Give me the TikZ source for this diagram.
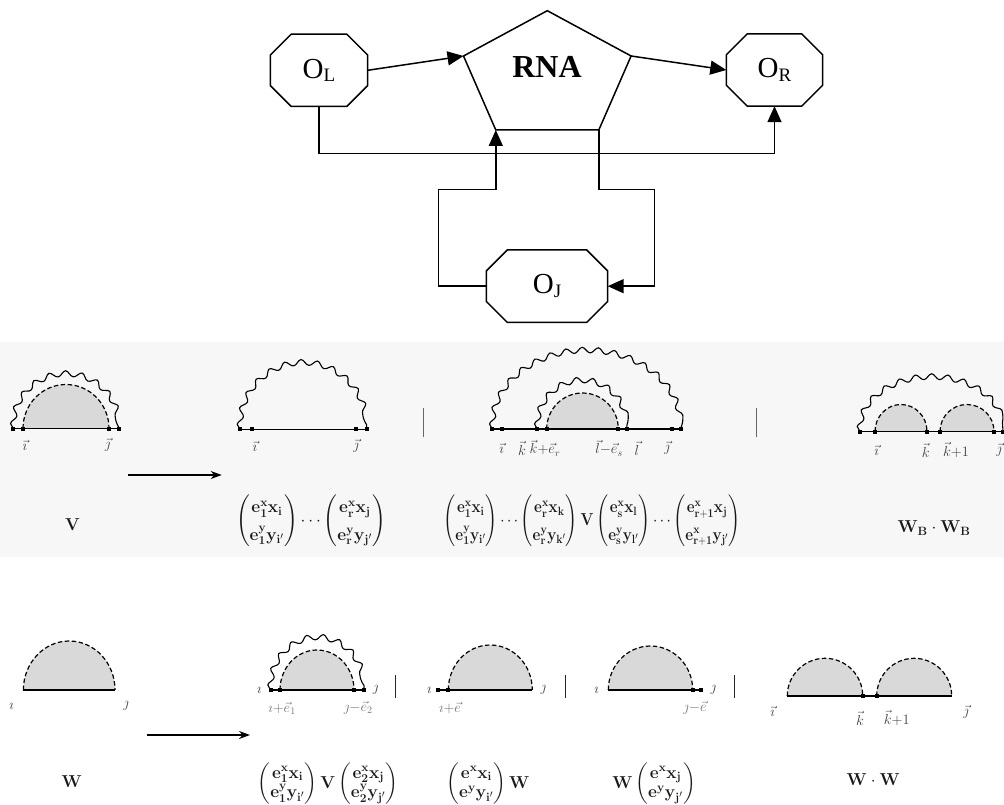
\documentclass[tikz,border=0pt]{standalone}
\usepackage[no-math]{fontspec}
\usepackage{amsmath}
\newfontfamily\timesfont{Liberation Serif}
\usetikzlibrary{arrows.meta,decorations.pathmorphing}

% two-row column of bold entries
\newcommand\colvec[2]{\begin{pmatrix}\mathbf{#1}\\\mathbf{#2}\end{pmatrix}}
% shaded half-disc with a dashed rim: centre x, base y, x radius, y radius
\newcommand\dome[4]{%
  \fill[domefill] (#1-#3,#2) arc[start angle=180,end angle=360,x radius=#3,y radius=#4] -- cycle;
  \draw[domerim] (#1-#3,#2) arc[start angle=180,end angle=360,x radius=#3,y radius=#4];}
% wavy (photon) half-arc: centre x, base y, x radius, y radius
\newcommand\wavearc[4]{%
  \draw[wavy] (#1-#3,#2) arc[start angle=180,end angle=360,x radius=#3,y radius=#4];}
% small square vertex on a base line
\newcommand\basevtx[2]{\fill (#1-2,#2-2) rectangle +(4,4);}
% lowered small subscript letter
\newcommand\lowsub[1]{\raisebox{-3.5pt}{\fontsize{19}{19}\selectfont #1}}

\begin{document}
\begin{tikzpicture}[x=1pt,y=-1pt,
  flow/.style={line width=1.5pt,line join=miter,-{Triangle[length=16pt,width=14pt]}},
  octbox/.style={draw=none,inner sep=0pt,font=\timesfont\fontsize{29}{30}\selectfont},
  outline/.style={line width=1.5pt,line join=miter},
  domefill/.style={fill=black!15},
  domerim/.style={line width=1.2pt,dash pattern=on 4.5pt off 2.5pt},
  wavy/.style={line width=1.1pt,decorate,decoration={snake,amplitude=2.8pt,segment length=16pt}},
  baseln/.style={line width=1.3pt},
  sep/.style={line width=0.9pt,black!60},
  sepdark/.style={line width=0.9pt,black!85},
  maparrow/.style={line width=1.2pt,-{Stealth[length=11pt,width=8pt]}},
  lbl/.style={inner sep=0pt,text=black!75,font=\fontsize{14.4}{16}\selectfont},
  lbllight/.style={inner sep=0pt,text=black!55,font=\fontsize{14.4}{16}\selectfont},
  formtop/.style={inner sep=0pt,text=black!90,font=\fontsize{17.28}{21}\selectfont\renewcommand\arraystretch{1.3}},
  formbot/.style={inner sep=0pt,text=black!90,font=\fontsize{17.28}{21}\selectfont\renewcommand\arraystretch{0.95}},
]
\useasboundingbox (0,0) rectangle (1004,805);
\fill[black!3] (0,342) rectangle (1004,557);

% ---------- block diagram ----------
\node[octbox,minimum width=97pt,minimum height=72pt] (OL) at (319,70.3) {O\lowsub{L}};
\node[octbox,minimum width=96pt,minimum height=72pt] (OR) at (774.5,70) {O\lowsub{R}};
\node[octbox,minimum width=121pt,minimum height=72pt] (OJ) at (547,286.2) {O\lowsub{J}\hspace{30pt}};
\foreach \n in {OL,OR,OJ}
  \draw[outline] ([xshift=21pt]\n.north west) -- ([xshift=-21pt]\n.north east)
    -- ([yshift=-21pt]\n.north east) -- ([yshift=21pt]\n.south east)
    -- ([xshift=-21pt]\n.south east) -- ([xshift=21pt]\n.south west)
    -- ([yshift=21pt]\n.south west) -- ([yshift=-21pt]\n.north west) -- cycle;

\coordinate (PA) at (547.3,10.7);
\coordinate (PL) at (463.5,56);
\coordinate (PR) at (631.1,56);
\coordinate (PBL) at (495.8,130);
\coordinate (PBR) at (598.8,130);
\draw[outline] (PA) -- (PR) -- (PBR) -- (PBL) -- (PL) -- cycle;
\node[font=\timesfont\bfseries\fontsize{32}{34}\selectfont] (RNA) at (547,67) {RNA};

\draw[flow] (OL.east) -- (PL);
\draw[flow] (PR) -- (OR.west);
\draw[flow] (OL.south) -- ++(0,47) -| (OR.south);
\draw[flow] (OJ.west) -| (438.3,189.3) -| (PBL);
\draw[flow] (PBR) |- (654.3,189.3) |- (OJ.east);

% ---------- upper row of graphs ----------
% V
\wavearc{66}{428.5}{52.7}{51}
\dome{66}{428.5}{43}{44}
\draw[baseln] (13.3,428.5) -- (118.7,428.5);
\foreach \x in {13.3,23,109,118.7} {\basevtx{\x}{428.5}}
% single photon arc
\wavearc{303.3}{429.3}{63.3}{63}
\draw[baseln] (240,429.3) -- (366.7,429.3);
\foreach \x in {240,252.3,355.7,366.7} {\basevtx{\x}{429.3}}
% nested arcs
\wavearc{586.5}{429}{94.2}{75}
\wavearc{582}{429}{44.7}{45}
\dome{582.5}{429}{35.8}{36}
\draw[baseln] (492.3,429) -- (680.7,429);
\foreach \x in {492.3,501.7,537.3,546.7,618.3,626.7,672.3,680.7} {\basevtx{\x}{429}}
% two bubbles under one arc
\wavearc{931.5}{431.5}{71.5}{51}
\dome{901}{431.5}{26}{27}
\dome{967}{431.5}{27}{27}
\draw[baseln] (860,431.5) -- (1003,431.5);
\foreach \x in {860,875,927.3,940,994,1003} {\basevtx{\x}{431.5}}

\draw[sep] (423.3,408) -- (423.3,436.7);
\draw[sep] (756.7,408) -- (756.7,436.7);

\coordinate (m1s) at (128,475);
\coordinate (m1e) at (221.7,475);
\draw[maparrow] (m1s) -- (m1e);

\node[lbl] (u1) at (25,445) {$\vec\imath$};
\node[lbl] (u2) at (107.7,445) {$\vec\jmath$};
\node[lbl] (u3) at (255,446) {$\vec\imath$};
\node[lbl] (u4) at (356,446) {$\vec\jmath$};
\node[lbl] (u5) at (501.7,448) {$\vec\imath$};
\node[lbl] (u6) at (522,448) {$\vec k$};
\node[lbl,anchor=west] (u7) at (529.5,448) {$\vec k{+}\vec e_r$};
\node[lbl] (u8) at (609,448) {$\vec l{-}\vec e_s$};
\node[lbl] (u9) at (637,448) {$\vec l$};
\node[lbl] (u10) at (667,448) {$\vec\jmath$};
\node[lbl] (u11) at (876.7,450) {$\vec\imath$};
\node[lbl] (u12) at (925.7,450) {$\vec k$};
\node[lbl] (u13) at (956,450) {$\vec k{+}1$};
\node[lbl] (u14) at (999,450) {$\vec\jmath$};

\node[formtop] (fV) at (72.7,524.5) {$\mathbf{V}$};
\node[formtop] (f2) at (311,521) {$\colvec{e^x_1x_i}{e^y_1y_{i'}}\cdots\colvec{e^x_rx_j}{e^y_ry_{j'}}$};
\node[formtop] (f3) at (592,521) {\scalebox{0.88}[1]{$\colvec{e^x_1x_i}{e^y_1y_{i'}}\cdots\colvec{e^x_rx_k}{e^y_ry_{k'}}\mathbf{V}\colvec{e^x_sx_l}{e^y_sy_{l'}}\cdots\colvec{e^x_{r+1}x_j}{e^x_{r+1}y_{j'}}$}};
\node[formtop] (f4) at (934,528) {$\mathbf{W_B\cdot W_B}$};

% ---------- lower row of graphs ----------
\dome{69.2}{690}{45.8}{49}
\draw[baseln] (23.3,690) -- (115,690);

\wavearc{317.3}{690}{46.7}{49}
\dome{317}{690}{37}{40}
\draw[baseln] (270.7,690) -- (364,690);
\foreach \x in {270.7,280,354,364} {\basevtx{\x}{690}}

\dome{490.3}{690}{42}{45}
\draw[baseln] (438.3,690) -- (532.3,690);
\foreach \x in {438.3,448.3} {\basevtx{\x}{690}}

\dome{650.5}{690}{42.2}{44}
\draw[baseln] (608.3,690) -- (700.7,690);
\foreach \x in {692.7,700.7} {\basevtx{\x}{690}}

\dome{825}{696}{37.7}{37.7}
\dome{914.2}{696}{37.5}{37.7}
\draw[baseln] (787.3,696) -- (951.7,696);
\foreach \x in {862.7,876.7} {\basevtx{\x}{696}}

\draw[sepdark] (395.7,675) -- (395.7,698.3);
\draw[sepdark] (565,675) -- (565,698.3);
\draw[sepdark] (734,675) -- (734,698.3);

\coordinate (m2s) at (146.7,735);
\coordinate (m2e) at (250,735);
\draw[maparrow] (m2s) -- (m2e);

\node[lbl] (d1) at (11.7,706) {$\imath$};
\node[lbl] (d2) at (126,706) {$\jmath$};
\node[lbl] (d3) at (259.3,690) {$\imath$};
\node[lbl] (d4) at (375.7,690) {$\jmath$};
\node[lbllight] (d5) at (282,708) {$\imath{+}\vec e_1$};
\node[lbllight] (d6) at (358.3,708) {$\jmath{-}\vec e_2$};
\node[lbl] (d7) at (429.3,690) {$\imath$};
\node[lbl] (d8) at (543.3,690) {$\jmath$};
\node[lbllight] (d9) at (450,708) {$\imath{+}\vec e$};
\node[lbl] (d10) at (596.7,690) {$\imath$};
\node[lbl] (d11) at (713.3,690) {$\jmath$};
\node[lbllight] (d12) at (695,708) {$\jmath{-}\vec e$};
\node[lbl] (d13) at (772.7,711.7) {$\vec\imath$};
\node[lbl] (d14) at (860,718) {$\vec k$};
\node[lbl] (d15) at (896.7,718) {$\vec k{+}1$};
\node[lbl] (d16) at (966,711.7) {$\vec\jmath$};

\node[formbot] (gW) at (71.7,781.3) {$\mathbf{W}$};
\node[formbot] (ga) at (328,784) {$\colvec{e^x_1x_i}{e^y_1y_{i'}}\mathbf{V}\colvec{e^x_2x_j}{e^y_2y_{j'}}$};
\node[formbot] (gb) at (488,784) {$\colvec{e^xx_i}{e^yy_{i'}}\mathbf{W}$};
\node[formbot] (gc) at (654,784) {$\mathbf{W}\colvec{e^xx_j}{e^yy_{j'}}$};
\node[formbot] (gd) at (873.3,780) {$\mathbf{W\cdot W}$};
\end{tikzpicture}
\end{document}
